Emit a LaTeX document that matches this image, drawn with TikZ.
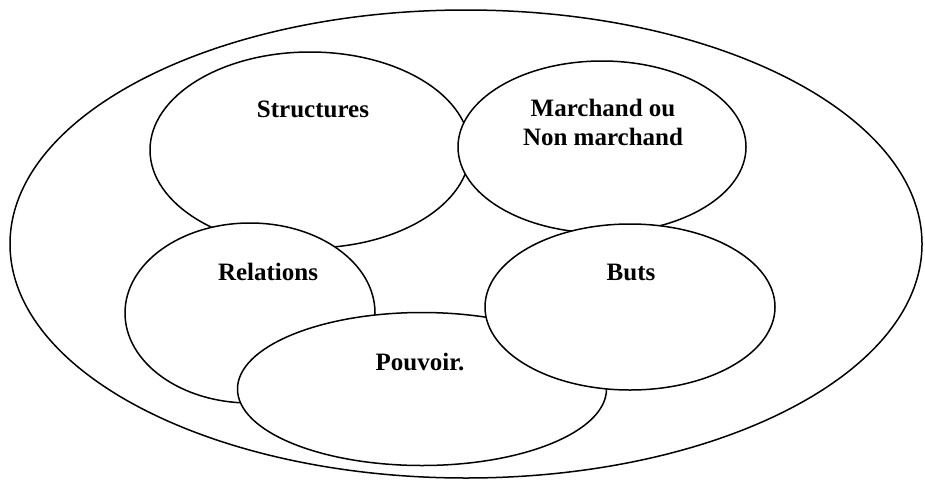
\documentclass[tikz,border=0pt]{standalone}
\usepackage{fontspec}
\setmainfont{Liberation Serif}
\usetikzlibrary{shapes.geometric}
\begin{document}
\begin{tikzpicture}[x=1pt,y=-1pt,
  oval/.style={draw=black,line width=1.5pt,fill=white,ellipse,inner sep=0pt},
  lab/.style={font=\fontsize{25}{29}\selectfont\bfseries,align=center,inner sep=0pt}]
\useasboundingbox (0,0) rectangle (925,482);
\fill[white] (0,0) rectangle (925,482);
\node[oval,minimum width=912pt,minimum height=468pt] (outer) at (466,244) {};
\node[oval,minimum width=320pt,minimum height=196pt] (struct) at (310,150) {};
\node[oval,minimum width=288pt,minimum height=172pt] (march) at (602,147) {};
\node[oval,minimum width=250pt,minimum height=180pt] (rel) at (250,313) {};
\node[oval,minimum width=369pt,minimum height=153pt] (pouv) at (422,389) {};
\node[oval,minimum width=290pt,minimum height=166pt] (buts) at (630,307) {};
\node[lab] (tstruct) at (313,109) {Structures};
\node[lab] (tmarch) at (603,122) {Marchand ou\\Non marchand};
\node[lab] (trel) at (268,272) {Relations};
\node[lab] (tpouv) at (420,362) {Pouvoir.};
\node[lab] (tbuts) at (631,272) {Buts};
\end{tikzpicture}
\end{document}
